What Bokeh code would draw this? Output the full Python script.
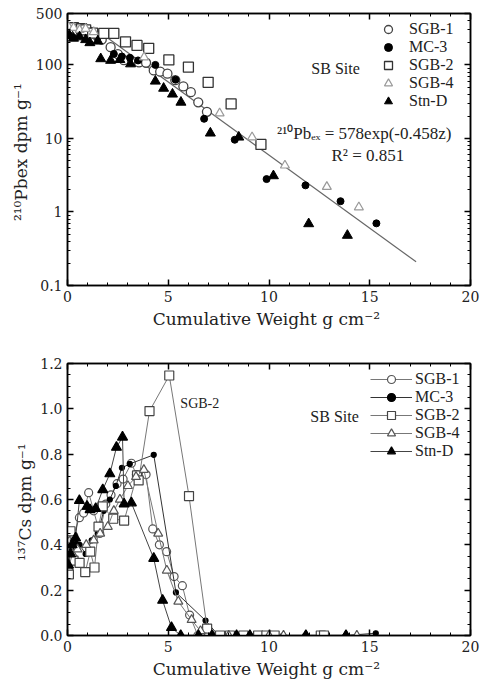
from bokeh.plotting import figure
from bokeh.models import (LogAxis, LinearAxis, FixedTicker, Legend, LegendItem, Label,
                          PrintfTickFormatter, CustomJSTickFormatter)
from bokeh.layouts import column
from bokeh.embed import file_html
from bokeh.resources import INLINE

FONT = "Liberation Serif"
AXFONT = "DejaVu Serif"

# ---------------- Top panel: 210Pb excess ----------------
pb_sgb1_x = [0.05, 0.2, 0.4, 0.6, 0.8, 1.0, 1.2, 1.45, 1.7, 2.14, 2.5, 2.8, 3.2, 3.55, 3.9, 4.28, 4.6, 4.96, 5.35, 5.75, 6.12, 6.49, 6.92]
pb_sgb1_y = [290, 300, 310, 295, 305, 290, 280, 250, 220, 174, 140, 116, 112, 108, 107, 84, 81, 76, 62, 51, 42.5, 31, 23]
pb_mc3_x = [0.1, 0.3, 0.5, 0.8, 1.1, 1.5, 2.3, 2.7, 3.1, 3.5, 4.36, 5.36, 6.78, 8.3, 9.88, 11.81, 13.55, 15.33]
pb_mc3_y = [280, 300, 260, 290, 270, 240, 141, 130, 125, 115, 100, 63, 18.5, 9.6, 2.8, 2.3, 1.4, 0.7]
pb_sgb2_x = [0.1, 0.3, 0.5, 0.7, 0.9, 1.25, 1.8, 2.3, 2.88, 3.45, 4.03, 5.03, 6.0, 6.98, 8.12, 9.6]
pb_sgb2_y = [310, 320, 300, 310, 300, 270, 268, 268, 206, 184, 168, 117, 93, 58, 29.5, 8.3]
pb_sgb4_x = [0.05, 0.3, 0.6, 0.9, 1.3, 3.8, 7.55, 9.16, 10.79, 12.87, 14.46]
pb_sgb4_y = [330, 320, 300, 310, 280, 127, 22, 10.4, 4.3, 2.2, 1.16]
pb_stnd_x = [0.1, 0.3, 0.6, 0.9, 1.11, 1.5, 1.65, 2.14, 2.6, 3.13, 4.36, 4.77, 5.21, 5.63, 7.09, 8.5, 10.22, 11.97, 13.89]
pb_stnd_y = [250, 230, 240, 220, 200, 210, 121, 115, 118, 103, 60, 48, 40, 31, 11.8, 10.4, 3.1, 0.69, 0.48]
fit_x = [1.5, 17.3]
fit_y = [291, 0.21]

pb_ticks = [0.1, 1, 10, 100, 500]
pb_tick_labels = ["0.1", "1", "10", "100", "500"]

# ---------------- Bottom panel: 137Cs ----------------
cs_sgb1_x = [0.05, 0.2, 0.31, 0.59, 0.8, 1.05, 1.3, 1.6, 1.9, 2.16, 2.46, 2.76, 3.17, 3.42, 3.9, 4.23, 4.56, 4.92, 5.29, 5.7, 6.06, 6.47, 7.0, 7.5]
cs_sgb1_y = [0.38, 0.42, 0.44, 0.52, 0.54, 0.63, 0.55, 0.45, 0.58, 0.62, 0.67, 0.69, 0.76, 0.71, 0.71, 0.47, 0.40, 0.37, 0.26, 0.22, 0.09, 0.0, 0.0, 0.0]
cs_mc3_x = [0.05, 0.2, 0.4, 0.6, 0.9, 1.2, 1.5, 1.8, 2.1, 2.4, 2.7, 3.09, 4.28, 5.38, 6.85, 7.5, 8.4, 9.5, 10.7, 11.8, 13.8, 15.3]
cs_mc3_y = [0.33, 0.38, 0.41, 0.40, 0.36, 0.42, 0.45, 0.55, 0.60, 0.66, 0.74, 0.757, 0.797, 0.19, 0.066, 0, 0, 0, 0, 0, 0, 0.01]
cs_sgb2_x = [0.07, 0.15, 0.3, 0.6, 0.88, 1.13, 1.34, 1.54, 1.75, 2.27, 2.81, 3.45, 3.53, 4.07, 5.05, 6.03, 6.93, 7.57, 8.06, 8.73, 9.46, 9.87, 10.28, 12.57, 12.73]
cs_sgb2_y = [0.27, 0.46, 0.33, 0.32, 0.28, 0.37, 0.30, 0.48, 0.57, 0.515, 0.507, 0.706, 0.684, 0.99, 1.147, 0.615, 0.03, 0, 0, 0, 0, 0, 0, 0, 0]
cs_sgb4_x = [0.05, 0.25, 0.5, 0.93, 1.3, 1.62, 2.0, 2.3, 2.6, 3.0, 3.4, 3.79, 4.5, 4.93, 5.5, 6.16, 6.6, 7.2, 8.0, 9.05, 10.0, 10.72, 11.83, 13.82, 14.36]
cs_sgb4_y = [0.30, 0.36, 0.38, 0.40, 0.42, 0.45, 0.48, 0.55, 0.60, 0.66, 0.70, 0.731, 0.45, 0.287, 0.15, 0.069, 0.02, 0, 0, 0, 0, 0, 0, 0, 0]
cs_stnd_x = [0.05, 0.15, 0.23, 0.4, 0.59, 0.97, 1.12, 1.4, 1.75, 2.1, 2.43, 2.73, 2.81, 3.17, 4.28, 4.72, 5.16, 5.62, 6.5, 7.17, 8.39, 9.05, 11.83, 13.82]
cs_stnd_y = [0.31, 0.36, 0.40, 0.43, 0.595, 0.57, 0.555, 0.56, 0.643, 0.713, 0.83, 0.875, 0.58, 0.585, 0.34, 0.155, 0.035, 0, 0, 0, 0, 0, 0, 0]

series_names = ["SGB-1", "MC-3", "SGB-2", "SGB-4", "Stn-D"]
x_title = "Cumulative Weight  g cm⁻²"
pb_title = "²¹⁰Pbex  dpm g⁻¹"
cs_title = "¹³⁷Cs  dpm g⁻¹"

LEG_ROW_BOTTOMS = [246, 228, 210, 192, 174]


def style_axes(p, xlabel, ylabel):
    p.xgrid.visible = False
    p.ygrid.visible = False
    p.outline_line_color = "black"
    p.outline_line_width = 1.5
    for ax in p.axis:
        ax.axis_line_width = 1.5
        ax.major_tick_in = 6
        ax.major_tick_out = 0
        ax.minor_tick_in = 3
        ax.minor_tick_out = 0
        ax.major_tick_line_width = 1.5
        ax.major_label_text_font = AXFONT
        ax.major_label_text_font_size = "14px"
        ax.major_label_text_color = "#222"
        ax.axis_label_text_font = AXFONT
        ax.axis_label_text_font_size = "17px"
        ax.axis_label_text_font_style = "normal"
        ax.axis_label_text_color = "#222"
    bottom_axis = p.below[0]
    left_axis = p.left[0]
    bottom_axis.axis_label = xlabel
    bottom_axis.axis_label_standoff = 4
    left_axis.axis_label = ylabel
    left_axis.axis_label_standoff = 2


def mirror(p, xticker, yticker, log=False):
    blank = CustomJSTickFormatter(code="return ''")
    top = LinearAxis(ticker=xticker, formatter=blank, major_label_standoff=0)
    right = (LogAxis if log else LinearAxis)(ticker=yticker, formatter=blank,
                                              major_label_standoff=0)
    p.add_layout(top, "above")
    p.add_layout(right, "right")


def add_legend(p, renderer_groups, x, glyph_width, standoff):
    for name, rends, yb in zip(series_names, renderer_groups, LEG_ROW_BOTTOMS):
        lg = Legend(items=[LegendItem(label=name, renderers=rends)],
                    location=(x, yb), padding=0, margin=0, spacing=0,
                    glyph_width=glyph_width, glyph_height=20, label_height=20,
                    label_standoff=standoff,
                    label_text_font=FONT, label_text_font_size="16px",
                    label_text_color="#222",
                    border_line_alpha=0, background_fill_alpha=0)
        p.add_layout(lg)


x_ticker = FixedTicker(ticks=[0, 5, 10, 15, 20], minor_ticks=list(range(0, 21)))

# ---- top figure ----
p1 = figure(width=486, height=345, x_range=(0, 20), y_range=(0.1, 500), y_axis_type="log",
            output_backend="svg", toolbar_location=None,
            min_border_left=63, min_border_right=16, min_border_top=13, min_border_bottom=60)
pb_minor = [0.2, 0.3, 0.4, 0.5, 0.6, 0.7, 0.8, 0.9, 2, 3, 4, 5, 6, 7, 8, 9,
            20, 30, 40, 50, 60, 70, 80, 90, 200, 300, 400]
y1_ticker = FixedTicker(ticks=pb_ticks, minor_ticks=pb_minor)
p1.xaxis.ticker = x_ticker
p1.yaxis.ticker = y1_ticker
p1.yaxis.major_label_overrides = {t: l for t, l in zip(pb_ticks, pb_tick_labels)}
mirror(p1, x_ticker, y1_ticker, log=True)
style_axes(p1, x_title, pb_title)

p1.line(fit_x, fit_y, line_color="#666", line_width=1.2)
r1 = p1.scatter(pb_sgb1_x, pb_sgb1_y, marker="circle", size=9, fill_color="white",
                line_color="#444", line_width=1.3)
r2 = p1.scatter(pb_mc3_x, pb_mc3_y, marker="circle", size=7, fill_color="black",
                line_color="black")
r3 = p1.scatter(pb_sgb2_x, pb_sgb2_y, marker="square", size=10, fill_color="white",
                line_color="#333", line_width=1.3)
r4 = p1.scatter(pb_sgb4_x, pb_sgb4_y, marker="triangle", size=9, fill_color="white",
                line_color="#999", line_width=1.2)
r5 = p1.scatter(pb_stnd_x, pb_stnd_y, marker="triangle", size=10, fill_color="black",
                line_color="black")
add_legend(p1, [[r1], [r2], [r3], [r4], [r5]], 311, 20, 11)

p1.add_layout(Label(x=12.1, y=89, text="SB Site", text_baseline="middle",
                    text_font=FONT, text_font_size="16px", text_color="#222"))
p1.add_layout(Label(x=10.4, y=11.6, text="²¹⁰Pbₑₓ = 578exp(-0.458z)", text_baseline="middle",
                    text_font=FONT, text_font_size="17px", text_color="#222"))
p1.add_layout(Label(x=13.1, y=5.85, text="R² = 0.851", text_baseline="middle",
                    text_font=FONT, text_font_size="17px", text_color="#222"))

# ---- bottom figure ----
p2 = figure(width=486, height=348, x_range=(0, 20), y_range=(0, 1.2),
            output_backend="svg", toolbar_location=None,
            min_border_left=67, min_border_right=11, min_border_top=18, min_border_bottom=58)
y2_ticker = FixedTicker(ticks=[0, 0.2, 0.4, 0.6, 0.8, 1.0, 1.2],
                        minor_ticks=[i * 0.05 for i in range(25)])
p2.xaxis.ticker = x_ticker
p2.yaxis.ticker = y2_ticker
p2.yaxis.formatter = PrintfTickFormatter(format="%.1f")
mirror(p2, x_ticker, y2_ticker)
style_axes(p2, x_title, cs_title)

specs = [
    (cs_sgb1_x, cs_sgb1_y, "circle", 8, "white", "#555", "#777"),
    (cs_mc3_x, cs_mc3_y, "circle", 5, "black", "black", "#333"),
    (cs_sgb2_x, cs_sgb2_y, "square", 9, "white", "#444", "#777"),
    (cs_sgb4_x, cs_sgb4_y, "triangle", 9, "white", "#555", "#777"),
    (cs_stnd_x, cs_stnd_y, "triangle", 10, "black", "black", "#444"),
]
groups2 = []
for xs, ys, mk, sz, fc, lc, lnc in specs:
    ln = p2.line(xs, ys, line_color=lnc, line_width=1)
    sc = p2.scatter(xs, ys, marker=mk, size=sz, fill_color=fc, line_color=lc, line_width=1.2)
    groups2.append([ln, sc])
add_legend(p2, groups2, 303, 42, 3)

p2.add_layout(Label(x=12.05, y=0.966, text="SB Site", text_baseline="middle",
                    text_font=FONT, text_font_size="16px", text_color="#222"))
p2.add_layout(Label(x=5.6, y=1.023, text="SGB-2", text_baseline="middle",
                    text_font=FONT, text_font_size="14px", text_color="#222"))

layout = column(p1, p2, spacing=0)
open("out.html", "w").write(file_html(layout, INLINE))
